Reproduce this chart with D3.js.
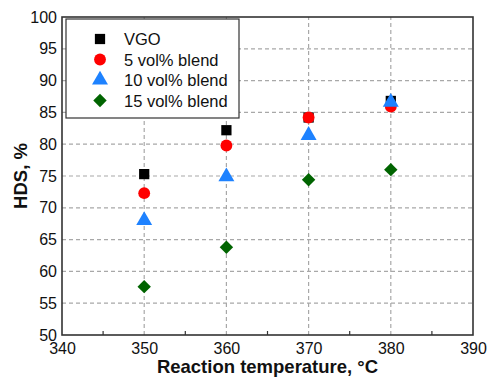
<!DOCTYPE html>
<html>
<head>
<meta charset="utf-8">
<script src="https://cdn.jsdelivr.net/npm/d3@7"></script>
<style>
  body { margin: 0; background: #fff; }
  svg { display: block; font-family: "Liberation Sans", Arial, sans-serif; }
</style>
</head>
<body>
<svg id="chart" width="489" height="379"></svg>
<script>
// Reaction temperatures (°C)
const temperatures = [350, 360, 370, 380];

// HDS conversion (%) for each feed
const vgo      = [75.3, 82.2, 84.2, 86.8];
const blend5   = [72.3, 79.8, 84.2, 85.9];
const blend10  = [68.0, 74.9, 81.4, 86.6];
const blend15  = [57.6, 63.8, 74.4, 76.0];

const seriesNames = ["VGO", "5 vol% blend", "10 vol% blend", "15 vol% blend"];
const seriesValues = [vgo, blend5, blend10, blend15];
const seriesColors = ["#000000", "#ff0000", "#1e82ff", "#006400"];

// square-on-point diamond (equal width and height)
const symbolWideDiamond = {
  draw(ctx, size) {
    const r = Math.sqrt(size / 2);
    ctx.moveTo(0, -r); ctx.lineTo(r, 0); ctx.lineTo(0, r); ctx.lineTo(-r, 0); ctx.closePath();
  }
};
const seriesShapes = [d3.symbolSquare, d3.symbolCircle, d3.symbolTriangle, symbolWideDiamond];
const seriesSizes = [105, 110, 110, 90];

const xTicks = [340, 350, 360, 370, 380, 390];
const yTicks = [50, 55, 60, 65, 70, 75, 80, 85, 90, 95, 100];

const margin = { left: 62, right: 16, top: 17, bottom: 44 };
const W = 489, H = 379;
const svg = d3.select("#chart");

const x = d3.scaleLinear().domain([340, 390]).range([margin.left, W - margin.right]);
const y = d3.scaleLinear().domain([50, 100]).range([H - margin.bottom, margin.top]);

// dashed grid at interior major ticks
const grid = svg.append("g").attr("stroke", "#a8a8a8").attr("stroke-width", 1.2)
  .attr("stroke-dasharray", "4,3");
xTicks.slice(1, -1).forEach(t => {
  grid.append("line").attr("x1", x(t)).attr("x2", x(t))
    .attr("y1", y(50)).attr("y2", y(100));
});
yTicks.slice(1, -1).forEach(t => {
  grid.append("line").attr("x1", x(340)).attr("x2", x(390))
    .attr("y1", y(t)).attr("y2", y(t));
});

// frame
svg.append("rect")
  .attr("x", x(340)).attr("y", y(100))
  .attr("width", x(390) - x(340)).attr("height", y(50) - y(100))
  .attr("fill", "none").attr("stroke", "#333").attr("stroke-width", 1.6);

// axes
const xAxis = d3.axisBottom(x).tickValues(xTicks).tickSize(0).tickPadding(8);
const gx = svg.append("g").attr("transform", `translate(0,${y(50)})`).call(xAxis);
gx.select(".domain").remove();
gx.selectAll("text").attr("font-size", 16).attr("fill", "#111")
  .attr("font-family", "Liberation Sans, Arial, sans-serif");

const yAxis = d3.axisLeft(y).tickValues(yTicks).tickSize(0).tickPadding(5);
const gy = svg.append("g").attr("transform", `translate(${x(340)},0)`).call(yAxis);
gy.select(".domain").remove();
gy.selectAll("text").attr("font-size", 16).attr("fill", "#111")
  .attr("font-family", "Liberation Sans, Arial, sans-serif");

// minor ticks on x (inward)
const minorX = d3.range(345, 390, 10);
svg.append("g").selectAll("line").data(minorX).join("line")
  .attr("x1", d => x(d)).attr("x2", d => x(d))
  .attr("y1", y(50)).attr("y2", y(50) - 4)
  .attr("stroke", "#333").attr("stroke-width", 1.2);

// axis titles
svg.append("text")
  .attr("x", (x(340) + x(390)) / 2).attr("y", H - 6)
  .attr("text-anchor", "middle").attr("font-size", 18.5).attr("font-weight", "bold")
  .attr("fill", "#111")
  .text("Reaction temperature, °C");

svg.append("text")
  .attr("transform", `translate(27,${(y(50) + y(100)) / 2}) rotate(-90)`)
  .attr("text-anchor", "middle").attr("font-size", 18.5).attr("font-weight", "bold")
  .attr("fill", "#111")
  .text("HDS, %");

// data points
seriesValues.forEach((vals, i) => {
  const sym = d3.symbol().type(seriesShapes[i]).size(seriesSizes[i]);
  svg.append("g").selectAll("path").data(vals).join("path")
    .attr("d", sym)
    .attr("transform", (d, j) => `translate(${x(temperatures[j])},${y(d)})`)
    .attr("fill", seriesColors[i]);
});

// legend
const lg = svg.append("g");
lg.append("rect").attr("x", 66).attr("y", 19).attr("width", 173).attr("height", 99)
  .attr("fill", "#fff").attr("stroke", "#333").attr("stroke-width", 1.2);
seriesNames.forEach((name, i) => {
  const cy = 39 + i * 20.5;
  lg.append("path")
    .attr("d", d3.symbol().type(seriesShapes[i]).size(seriesSizes[i])())
    .attr("transform", `translate(100,${cy})`)
    .attr("fill", seriesColors[i]);
  lg.append("text").attr("x", 124).attr("y", cy + 6)
    .attr("font-size", 16.5).attr("fill", "#111").text(name);
});
</script>
</body>
</html>
